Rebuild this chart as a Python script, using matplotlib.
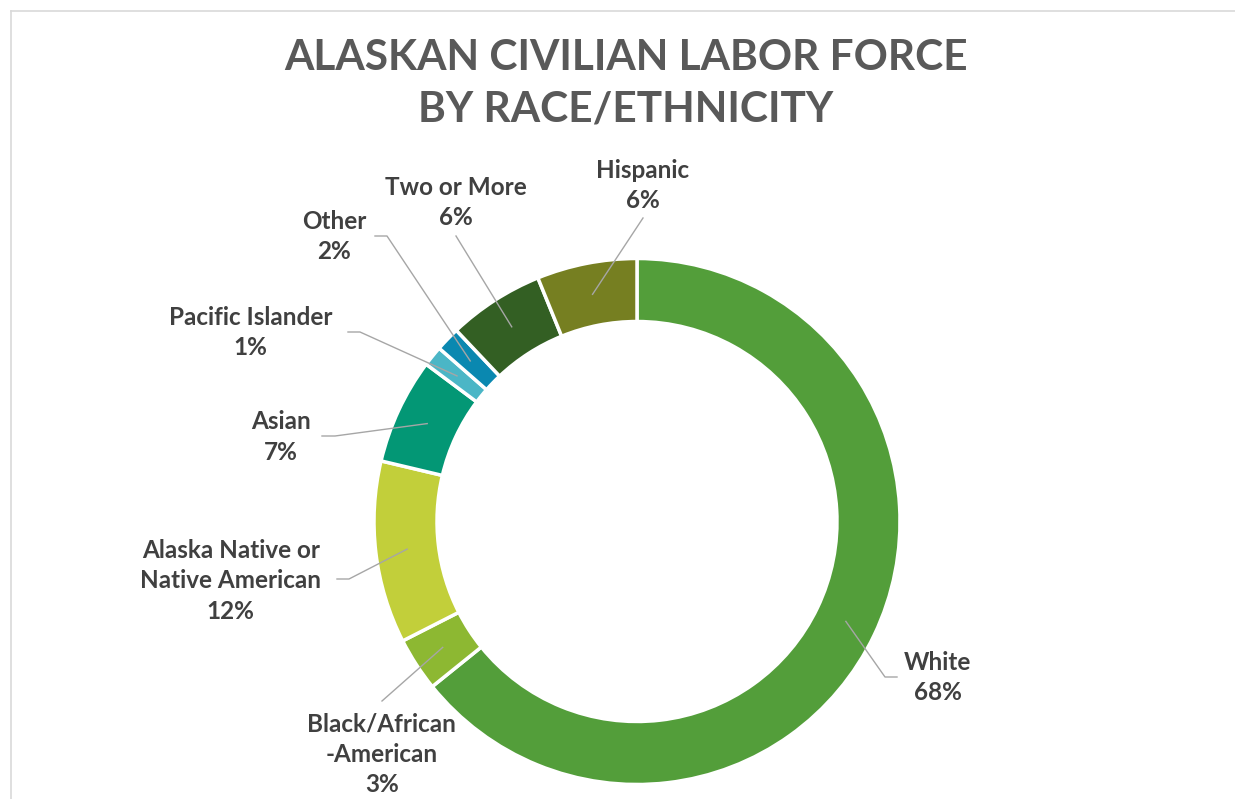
import matplotlib
matplotlib.use("Agg")
import matplotlib.pyplot as plt
import numpy as np

# ── data (ring shares; printed labels as shown) ────────────────────────────
categories = ["White", "Black/African\n-American", "Alaska Native or\nNative American",
              "Asian", "Pacific Islander", "Other", "Two or More", "Hispanic"]
shares = [64.2, 3.3, 11.2, 6.5, 1.25, 1.5, 5.9, 6.15]
pct_labels = ["68%", "3%", "12%", "7%", "1%", "2%", "6%", "6%"]
colors = ["#539E3A", "#8DB832", "#C2CF3A", "#039775", "#4BB6C6", "#0A88B0", "#335F23", "#767F21"]

W, H = 1235, 799
CX, CY = 637, 521.5          # ring centre, pixels from top-left
R, RING = 263, 63
FONT = ["Lato", "DejaVu Sans"]

# label centre + leader start/elbow, pixels from top-left
label_pos = [(937.5, 677.5), (381.7, 754), (230.8, 581), (281, 437),
             (250.5, 332.5), (334.3, 236.5), (456, 202.5), (643, 185.5)]
leaders = [[(897, 677), (885, 677)], [(382, 701)], [(337, 579), (349, 579)],
           [(322, 436), (335, 436)], [(348, 332), (360, 332)], [(375, 236), (387, 236)],
           [(456, 236)], [(643, 218)]]

fig = plt.figure(figsize=(W / 100, H / 100), dpi=100)
ax = fig.add_axes([0, 0, 1, 1])

wedges, _ = ax.pie(shares, colors=colors, startangle=90, counterclock=False,
                   center=(CX, H - CY), radius=R,
                   wedgeprops=dict(width=RING, edgecolor="white", linewidth=2.5))
ax.set_xlim(0, W); ax.set_ylim(0, H); ax.axis("off")

# frame lines (top + left)
ax.plot([11, W], [H - 10.5, H - 10.5], color="#D9D9D9", lw=1.2)
ax.plot([11, 11], [H - 10.5, 0], color="#D9D9D9", lw=1.2)

for w, cat, pct, (lx, ly), pts in zip(wedges, categories, pct_labels, label_pos, leaders):
    mid = np.deg2rad((w.theta1 + w.theta2) / 2)
    rm = R - RING / 2
    end = (CX + rm * np.cos(mid), (H - CY) + rm * np.sin(mid))
    xs = [p[0] for p in pts] + [end[0]]
    ys = [H - p[1] for p in pts] + [end[1]]
    ax.plot(xs, ys, color="#A6A6A6", lw=1.0)
    ax.text(lx, H - ly, f"{cat}\n{pct}", ha="center", va="center", fontsize=17.5,
            fontweight="bold", color="#404040", family=FONT, linespacing=1.38)

ax.text(626, H - 84, "ALASKAN CIVILIAN LABOR FORCE\nBY RACE/ETHNICITY", ha="center", va="center",
        fontsize=30.5, fontweight="bold", color="#595959", family=FONT, linespacing=1.42)

fig.savefig("out.png", dpi=100)
